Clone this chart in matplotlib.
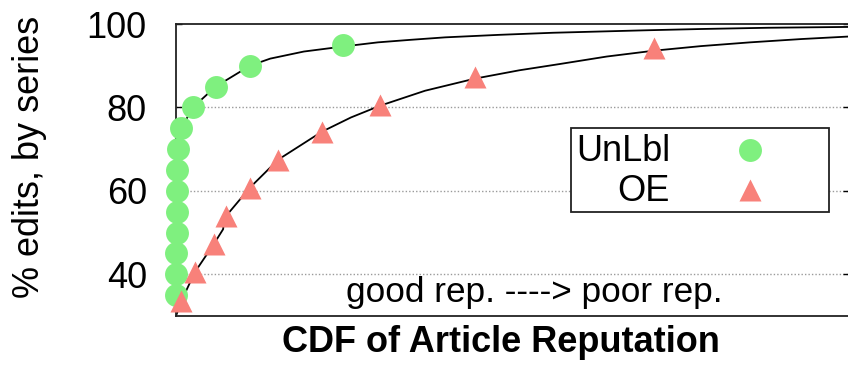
import matplotlib
matplotlib.use("Agg")
import matplotlib.pyplot as plt
from matplotlib.patches import Rectangle

plt.rcParams["font.family"] = ["Liberation Sans", "DejaVu Sans"]

# sampled points (x = position along article-reputation CDF, y = % edits)
unlbl_x = [0.000, 0.000, 0.000, 0.001, 0.001, 0.002, 0.002, 0.003, 0.008, 0.025, 0.059, 0.110, 0.248]
unlbl_y = [35, 40, 45, 50, 55, 60, 65, 70, 75, 80, 85, 90, 95]
oe_x = [0.008, 0.028, 0.056, 0.074, 0.110, 0.152, 0.217, 0.303, 0.444, 0.710]
oe_y = [33.6, 40.5, 47.2, 53.9, 60.8, 67.5, 74.2, 80.6, 87.3, 94.2]

# full curves traced through the samples
unlbl_curve_x = [0.000, 0.000, 0.003, 0.008, 0.025, 0.059, 0.110, 0.140, 0.190, 0.248,
                 0.300, 0.348, 0.400, 0.480, 0.560, 0.630, 0.700, 0.780, 0.880, 1.000]
unlbl_curve_y = [35.0, 65.0, 70.0, 75.0, 80.0, 85.0, 90.0, 91.7, 93.4, 94.6,
                 95.6, 96.2, 96.8, 97.4, 97.9, 98.2, 98.5, 98.8, 99.1, 99.3]
oe_curve_x = [0.000, 0.008, 0.028, 0.056, 0.070, 0.071, 0.074, 0.110, 0.152, 0.217,
              0.260, 0.303, 0.370, 0.444, 0.510, 0.570, 0.640, 0.710, 0.780, 0.853, 0.930, 1.000]
oe_curve_y = [30.0, 33.6, 40.5, 47.2, 50.8, 52.2, 53.9, 60.8, 67.5, 74.2,
              77.6, 80.4, 84.0, 86.9, 88.9, 90.4, 92.2, 93.6, 94.7, 95.6, 96.4, 97.0]

y_ticks = [40, 60, 80, 100]

GREEN = "#7ff07f"
RED = "#f8817a"

fig = plt.figure(figsize=(8.48, 3.65), dpi=100)
ax = fig.add_axes([176 / 848, 1 - 316 / 365, 673 / 848, 292 / 365])

for y in [40, 60, 80]:
    ax.axhline(y, color="#9a9a9a", lw=1.0, ls=(0, (1, 1.5)), zorder=1)

ax.plot(unlbl_curve_x, unlbl_curve_y, color="black", lw=1.3, zorder=2)
ax.plot(oe_curve_x, oe_curve_y, color="black", lw=1.3, zorder=2)
ax.plot(unlbl_x, unlbl_y, "o", ms=16.5, color=GREEN, mec="none", zorder=3, clip_on=False)
ax.plot(oe_x, oe_y, "^", ms=16.5, color=RED, mec="none", zorder=3, clip_on=False)

ax.set_xlim(0, 1)
ax.set_ylim(30, 100)
ax.set_yticks(y_ticks)
ax.set_xticks([])
ax.tick_params(axis="y", direction="in", length=4.5, width=1.0, labelsize=26,
               pad=21, right=True)
for s in ax.spines.values():
    s.set_linewidth(1.3)
    s.set_color("#222222")

# legend box, labels right-aligned with samples to their right
ax.add_patch(Rectangle((0.587, 0.356), 0.383, 0.288, transform=ax.transAxes,
                       fill=True, fc="white", ec="#222222", lw=1.3, zorder=4))
ax.text(0.734, 0.562, "UnLbl", transform=ax.transAxes, ha="right", va="center",
        fontsize=26, zorder=5)
ax.text(0.734, 0.425, "OE", transform=ax.transAxes, ha="right", va="center",
        fontsize=26, zorder=5)
ax.plot([0.853], [0.568], "o", ms=16.5, color=GREEN, mec="none",
        transform=ax.transAxes, zorder=5)
ax.plot([0.853], [0.432], "^", ms=16.5, color=RED, mec="none",
        transform=ax.transAxes, zorder=5)

ax.text(0.533, 0.049, "good rep. ----> poor rep.", transform=ax.transAxes,
        ha="center", va="baseline", fontsize=25.3)

fig.text(501 / 848, 1 - 351.7 / 365, "CDF of Article Reputation", ha="center",
         va="baseline", fontsize=26, fontweight="bold")
fig.text(30 / 848, 1 - 156.5 / 365, "% edits, by series", rotation=90,
         ha="center", va="center", fontsize=26)

fig.savefig("out.png", dpi=100)
